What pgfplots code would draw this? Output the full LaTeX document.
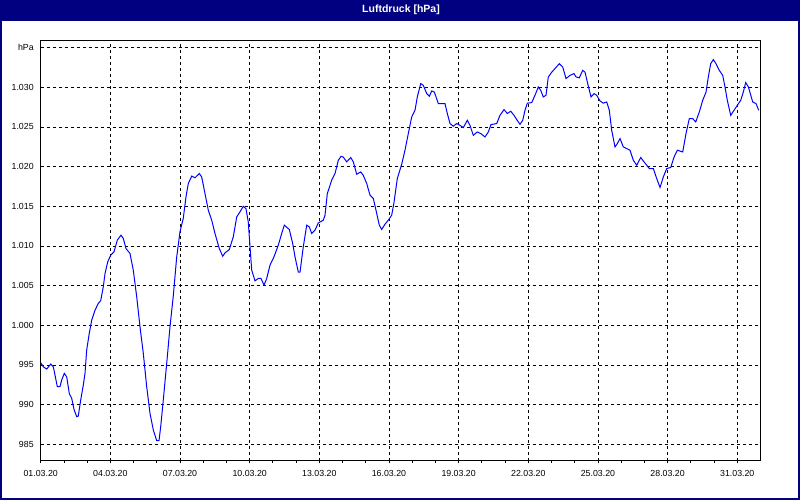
\documentclass[border=0pt]{standalone}
\usepackage{fontspec}
\setmainfont{Liberation Sans}
\usepackage{pgfplots}
\pgfplotsset{compat=1.18}
\definecolor{navywin}{HTML}{000080}
\definecolor{curve}{HTML}{0000FF}
\begin{document}
\begin{tikzpicture}[x=1pt,y=1pt]
\fill[white] (0,0) rectangle (800,500);
\fill[navywin] (0,479.3) rectangle (800,500);
\draw[navywin,line width=2pt] (1,1) rectangle (799,499);
\node[white,font=\bfseries\fontsize{10.5}{12}\selectfont] at (401,490) {Luftdruck [hPa]};
\begin{axis}[
  at={(40.7pt,39.3pt)}, anchor=south west,
  width=719.3pt, height=420.2pt, scale only axis,
  xmin=0, xmax=30.98, ymin=982.93, ymax=1035.9,
  axis line style={black,line width=1pt},
  xtick={0,3,...,30},
  xticklabels={01.03.20,04.03.20,07.03.20,10.03.20,13.03.20,16.03.20,19.03.20,22.03.20,25.03.20,28.03.20,31.03.20},
  minor xtick={0,1,...,31},
  ytick={985,990,...,1035},
  yticklabels={985,990,995,{1.000},{1.005},{1.010},{1.015},{1.020},{1.025},{1.030},hPa},
  xtick pos=bottom, ytick pos=left,
  tick align=outside,
  major tick length=2.5pt, minor tick length=2.5pt,
  every tick/.style={black,line width=0.8pt},
  ytick style={draw=none},
  xmajorgrids, ymajorgrids,
  major grid style={black,line width=0.8pt,dash pattern=on 3pt off 3pt},
  ticklabel style={font=\fontsize{8.8}{10}\selectfont},
  xticklabel style={yshift=-3.5pt},
  yticklabel style={xshift=-1pt},
  clip=true,
]
\addplot[curve,line width=1pt] coordinates {
(0.000,995.28) (0.112,994.77) (0.258,994.48) (0.431,995.11) (0.543,994.77) (0.616,993.73)
(0.715,992.26) (0.831,992.26) (0.904,993.10) (1.016,993.94) (1.120,993.50) (1.232,991.40)
(1.335,990.80) (1.434,989.40) (1.550,988.48) (1.619,988.56) (1.723,990.58) (1.835,992.47)
(1.908,993.94) (1.981,996.88) (2.093,999.00) (2.197,1000.65) (2.339,1001.90) (2.481,1002.76)
(2.584,1003.10) (2.696,1004.85) (2.769,1006.50) (2.886,1008.00) (3.015,1008.84) (3.157,1009.26)
(3.299,1010.73) (3.459,1011.36) (3.558,1010.94) (3.674,1009.68) (3.846,1009.05) (3.988,1006.95)
(4.135,1003.59) (4.277,999.81) (4.419,996.46) (4.565,992.26) (4.707,988.90) (4.850,986.80)
(4.996,985.45) (5.095,985.45) (5.168,987.20) (5.280,990.58) (5.427,995.20) (5.569,999.81)
(5.711,1003.70) (5.857,1008.60) (6.000,1011.80) (6.142,1013.50) (6.258,1016.20) (6.357,1017.87)
(6.504,1018.80) (6.646,1018.60) (6.831,1019.13) (6.934,1018.70) (7.076,1016.60) (7.219,1014.50)
(7.365,1013.25) (7.507,1011.57) (7.692,1009.68) (7.839,1008.70) (7.938,1009.13) (8.123,1009.55)
(8.295,1011.15) (8.442,1013.66) (8.584,1014.30) (8.726,1015.00) (8.842,1014.70) (8.941,1013.00)
(9.015,1009.90) (9.088,1006.95) (9.230,1005.60) (9.372,1005.90) (9.488,1005.90) (9.618,1005.06)
(9.734,1005.90) (9.876,1007.58) (10.048,1008.63) (10.233,1010.10) (10.380,1011.57) (10.492,1012.62)
(10.707,1012.08) (10.854,1010.30) (10.953,1008.63) (11.095,1006.70) (11.168,1006.70) (11.310,1009.90)
(11.457,1012.62) (11.569,1012.40) (11.672,1011.57) (11.814,1012.00) (11.956,1012.90) (12.172,1013.25)
(12.245,1013.88) (12.344,1016.60) (12.533,1018.29) (12.676,1019.13) (12.818,1020.80) (12.934,1021.30)
(13.033,1021.20) (13.179,1020.60) (13.352,1021.15) (13.464,1020.60) (13.610,1019.04) (13.782,1019.33)
(13.894,1018.90) (14.041,1017.87) (14.183,1016.40) (14.325,1016.00) (14.472,1014.10) (14.584,1012.62)
(14.687,1012.08) (14.829,1012.75) (14.971,1013.25) (15.117,1013.88) (15.217,1015.50) (15.359,1018.50)
(15.548,1020.30) (15.690,1022.07) (15.833,1024.17) (15.979,1026.26) (16.121,1027.10) (16.220,1028.78)
(16.367,1030.47) (16.479,1030.25) (16.625,1029.20) (16.737,1028.87) (16.841,1029.54) (16.953,1029.40)
(17.125,1027.95) (17.340,1027.95) (17.413,1027.95) (17.512,1026.70) (17.629,1025.43) (17.771,1025.09)
(17.917,1025.43) (18.059,1025.20) (18.201,1024.92) (18.374,1025.84) (18.490,1025.20) (18.632,1023.95)
(18.804,1024.37) (18.951,1024.17) (19.136,1023.74) (19.278,1024.37) (19.394,1025.30) (19.640,1025.43)
(19.782,1026.47) (19.954,1027.19) (20.096,1026.70) (20.243,1026.98) (20.385,1026.47) (20.501,1025.93)
(20.643,1025.34) (20.760,1025.84) (20.859,1027.10) (20.958,1028.00) (21.147,1028.07) (21.289,1029.00)
(21.432,1030.04) (21.535,1029.62) (21.647,1028.78) (21.763,1029.00) (21.862,1031.30) (22.009,1031.90)
(22.151,1032.36) (22.336,1032.98) (22.483,1032.56) (22.625,1031.10) (22.797,1031.50) (22.969,1031.73)
(23.056,1031.30) (23.198,1031.20) (23.344,1032.14) (23.443,1031.90) (23.559,1030.47) (23.702,1028.78)
(23.831,1029.20) (23.947,1029.00) (24.089,1028.28) (24.231,1028.00) (24.378,1028.15) (24.490,1027.10)
(24.593,1024.58) (24.735,1022.48) (24.835,1022.90) (24.951,1023.54) (25.093,1022.48) (25.239,1022.28)
(25.381,1022.07) (25.524,1020.80) (25.670,1020.18) (25.842,1021.15) (25.985,1020.60) (26.101,1020.18)
(26.213,1019.76) (26.385,1019.76) (26.531,1018.50) (26.674,1017.37) (26.816,1018.70) (26.962,1019.76)
(27.135,1019.89) (27.277,1021.20) (27.419,1022.07) (27.651,1021.85) (27.793,1024.17) (27.935,1026.05)
(28.082,1026.05) (28.211,1025.63) (28.366,1026.89) (28.512,1028.36) (28.655,1029.40) (28.754,1031.30)
(28.857,1032.98) (28.969,1033.49) (29.085,1032.98) (29.227,1032.14) (29.374,1031.50) (29.473,1030.04)
(29.572,1028.36) (29.718,1026.47) (29.860,1027.10) (30.003,1027.73) (30.149,1028.36) (30.261,1029.40)
(30.364,1030.60) (30.480,1030.04) (30.666,1028.15) (30.808,1027.95) (30.924,1027.10)
};
\end{axis}
\end{tikzpicture}
\end{document}
